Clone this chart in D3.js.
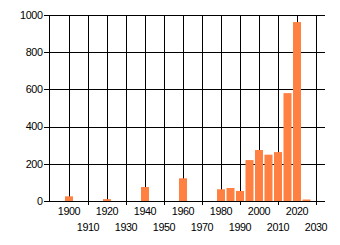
<!DOCTYPE html>
<html>
<head>
<meta charset="utf-8">
<script src="https://cdn.jsdelivr.net/npm/d3@7"></script>
<style>
  body { margin: 0; background: #fff; }
  text { font-family: "Liberation Sans", Arial, sans-serif; font-size: 10.8px; letter-spacing: -0.4px; fill: #000; }
</style>
</head>
<body>
<svg id="chart"></svg>
<script>
const years = [1900, 1920, 1940, 1960, 1980, 1985, 1990, 1995, 2000, 2005, 2010, 2015, 2020, 2025];
const counts = [25, 10, 75, 122, 63, 70, 54, 220, 274, 249, 263, 580, 962, 8];
const yTicks = [0, 200, 400, 600, 800, 1000];
const xTicks = [1900, 1910, 1920, 1930, 1940, 1950, 1960, 1970, 1980, 1990, 2000, 2010, 2020, 2030];

let width = 340, height = 245;
let margin = {top: 15, right: 15, bottom: 44, left: 49.5};

let svg = d3.select("#chart")
    .attr("width", width)
    .attr("height", height);

let x = d3.scaleLinear()
    .domain([1890, 2035])
    .range([margin.left, width - margin.right]);
let y = d3.scaleLinear()
    .domain([0, 1000])
    .range([height - margin.bottom, margin.top]);

let g = svg.append("g").attr("shape-rendering", "crispEdges");

// horizontal grid
g.selectAll(".hgrid")
    .data(yTicks)
    .enter().append("line")
    .attr("x1", margin.left - 6)
    .attr("x2", width - margin.right)
    .attr("y1", d => Math.round(y(d)) + 0.5)
    .attr("y2", d => Math.round(y(d)) + 0.5)
    .attr("stroke", "#000");

// vertical grid, odd decades stick out below the axis
g.selectAll(".vgrid")
    .data(xTicks)
    .enter().append("line")
    .attr("x1", d => Math.round(x(d)) + 0.5)
    .attr("x2", d => Math.round(x(d)) + 0.5)
    .attr("y1", margin.top)
    .attr("y2", (d, i) => y(0) + (i % 2 ? 4 : 0))
    .attr("stroke", "#000");

// y axis line
g.append("line")
    .attr("x1", margin.left - 0.5).attr("x2", margin.left - 0.5)
    .attr("y1", margin.top).attr("y2", y(0))
    .attr("stroke", "#000");

// bars
let barW = 8;
svg.selectAll(".bar")
    .data(years)
    .enter().append("rect")
    .attr("x", d => x(d) - barW / 2 + 0.5)
    .attr("width", barW)
    .attr("y", (d, i) => y(counts[i]))
    .attr("height", (d, i) => y(0) - y(counts[i]))
    .attr("fill", "#ff8040");

// y labels
svg.selectAll(".ylab")
    .data(yTicks)
    .enter().append("text")
    .attr("x", margin.left - 7)
    .attr("y", d => y(d))
    .attr("dy", "0.35em")
    .attr("text-anchor", "end")
    .text(d => d);

// x labels, staggered in two rows
svg.selectAll(".xlab")
    .data(xTicks)
    .enter().append("text")
    .attr("x", d => x(d) + 0.5)
    .attr("y", (d, i) => i % 2 ? 227 : 211)
    .attr("dy", "0.35em")
    .attr("text-anchor", "middle")
    .text(d => d);
</script>
</body>
</html>
